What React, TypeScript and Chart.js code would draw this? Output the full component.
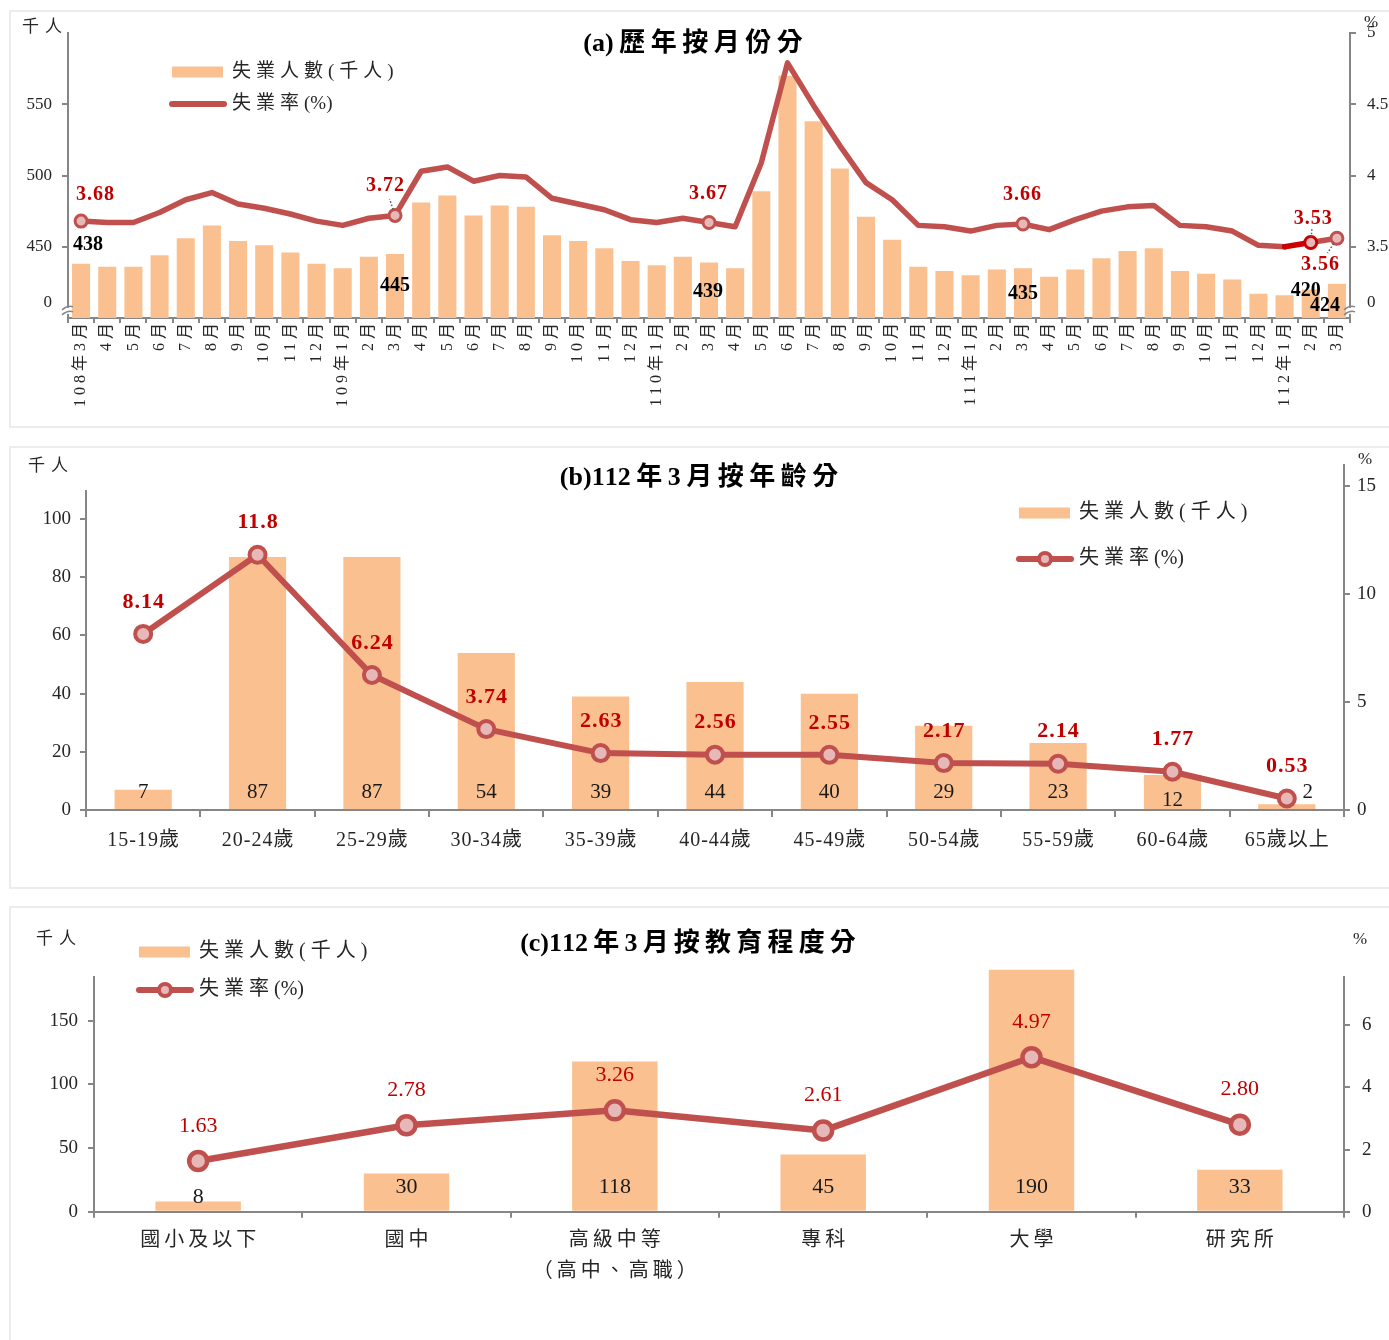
import React, { useEffect, useRef } from 'react';
import { Chart, registerables } from 'chart.js';

Chart.register(...registerables);

const FONT = "'Liberation Serif', 'Noto Sans CJK TC', serif";
const BAR = '#fac090';
const LINE = '#c0504d';
const MARK_FILL = '#e6b9b8';
const RED = '#c00000';
const AXIS = '#868686';
const TXT = '#262626';

// ---------------- (a) 歷年按月份分 ----------------
const monthLabels = [
  '108年3月', '4月', '5月', '6月', '7月', '8月', '9月', '10月', '11月', '12月',
  '109年1月', '2月', '3月', '4月', '5月', '6月', '7月', '8月', '9月', '10月', '11月', '12月',
  '110年1月', '2月', '3月', '4月', '5月', '6月', '7月', '8月', '9月', '10月', '11月', '12月',
  '111年1月', '2月', '3月', '4月', '5月', '6月', '7月', '8月', '9月', '10月', '11月', '12月',
  '112年1月', '2月', '3月',
];
const monthUnemployed = [
  438, 436, 436, 444, 456, 465, 454, 451, 446, 438,
  435, 443, 445, 481, 486, 472, 479, 478, 458, 454, 449, 440,
  437, 443, 439, 435, 489, 570, 538, 505, 471, 455, 436, 433,
  430, 434, 435, 429, 434, 442, 447, 449, 433, 431, 427, 417,
  416, 420, 424,
];
const monthRate = [
  3.68, 3.67, 3.67, 3.74, 3.83, 3.88, 3.80, 3.77, 3.73, 3.68,
  3.65, 3.70, 3.72, 4.03, 4.06, 3.96, 4.00, 3.99, 3.84, 3.80, 3.76, 3.69,
  3.67, 3.70, 3.67, 3.64, 4.09, 4.79, 4.49, 4.21, 3.95, 3.83, 3.65, 3.64,
  3.61, 3.65, 3.66, 3.62, 3.69, 3.75, 3.78, 3.79, 3.65, 3.64, 3.61, 3.51,
  3.50, 3.53, 3.56,
];
const monthLeftTicks = [450, 500, 550];
const monthRightTicks = [3.5, 4, 4.5, 5];
const monthLabelIdx = [0, 12, 24, 36, 47, 48];

// ---------------- (b) 112年3月按年齡分 ----------------
const ageLabels = ['15-19歲', '20-24歲', '25-29歲', '30-34歲', '35-39歲', '40-44歲', '45-49歲', '50-54歲', '55-59歲', '60-64歲', '65歲以上'];
const ageUnemployed = [7, 87, 87, 54, 39, 44, 40, 29, 23, 12, 2];
const ageRate = [8.14, 11.8, 6.24, 3.74, 2.63, 2.56, 2.55, 2.17, 2.14, 1.77, 0.53];
const ageLeftTicks = [0, 20, 40, 60, 80, 100];
const ageRightTicks = [0, 5, 10, 15];

// ---------------- (c) 112年3月按教育程度分 ----------------
const eduLabels = [['國小及以下'], ['國中'], ['高級中等', '（高中、高職）'], ['專科'], ['大學'], ['研究所']];
const eduUnemployed = [8, 30, 118, 45, 190, 33];
const eduRate = [1.63, 2.78, 3.26, 2.61, 4.97, 2.80];
const eduLeftTicks = [0, 50, 100, 150];
const eduRightTicks = [0, 2, 4, 6];

// ---------------- layout / style constants ----------------
const A_BREAK_L = 410.6;
const A_BREAK_R = 3.106;
const A_RATE_NUDGE: Record<number, [number, number, boolean]> = {
  0: [14, -26, false], 12: [-10, -30, true], 24: [-1, -29, false], 36: [-1, -29, false], 47: [2, -24, true], 48: [-17, 27, true],
};
const A_BAR_NUDGE: Record<number, [number, number]> = {
  0: [7, -19], 12: [0, 32], 24: [-1, 29], 36: [0, 26], 47: [-5, 1], 48: [-12, 22],
};
const B_LEFT_AXIS_TOP = 110;
const B_BAR_NUDGE: Record<number, [number, number]> = { 9: [0, 8], 10: [21, 0] };
const C_BAR_NUDGE: Record<number, [number, number]> = { 0: [0, 10] };

type TO = { size: number; bold?: boolean; color?: string; align?: 'left' | 'center' | 'right'; ls?: number; cjk?: boolean };

const isCJK = (ch: string) => /[\u3000-\u9fff\uff00-\uffef]/.test(ch);

function txt(ctx: CanvasRenderingContext2D, s: string, x: number, y: number, o: TO) {
  ctx.save();
  ctx.font = `${o.bold ? 'bold ' : ''}${o.size}px ${FONT}`;
  ctx.fillStyle = o.color || TXT;
  ctx.textBaseline = 'middle';
  ctx.textAlign = 'left';
  const ls = o.ls || 0;
  if (o.cjk) {
    const chars = Array.from(s);
    const widths = chars.map((c) => ctx.measureText(c).width);
    const gaps = chars.map((c, i) => (i < chars.length - 1 && (isCJK(c) || isCJK(chars[i + 1])) ? ls : 0));
    const w = widths.reduce((a, b) => a + b, 0) + gaps.reduce((a, b) => a + b, 0);
    let sx = x - w / 2;
    if (o.align === 'left') sx = x;
    else if (o.align === 'right') sx = x - w;
    chars.forEach((c, i) => {
      ctx.fillText(c, sx, y);
      sx += widths[i] + gaps[i];
    });
  } else {
    (ctx as any).letterSpacing = `${ls}px`;
    const w = ctx.measureText(s).width - ls;
    let sx = x - w / 2;
    if (o.align === 'left') sx = x;
    else if (o.align === 'right') sx = x - w;
    ctx.fillText(s, sx, y);
  }
  ctx.restore();
}

function marker(ctx: CanvasRenderingContext2D, x: number, y: number, r: number, bw: number) {
  ctx.save();
  ctx.beginPath();
  ctx.arc(x, y, r, 0, Math.PI * 2);
  ctx.fillStyle = MARK_FILL;
  ctx.fill();
  ctx.lineWidth = bw;
  ctx.strokeStyle = LINE;
  ctx.stroke();
  ctx.restore();
}

function breakMark(ctx: CanvasRenderingContext2D, x: number, y: number) {
  ctx.save();
  ctx.fillStyle = '#ffffff';
  ctx.fillRect(x - 3, y - 3, 6, 6);
  ctx.strokeStyle = AXIS;
  ctx.lineWidth = 1.5;
  ctx.beginPath();
  ctx.moveTo(x - 6, y - 1); ctx.quadraticCurveTo(x, y - 6, x + 5, y - 4);
  ctx.moveTo(x - 6, y + 4); ctx.quadraticCurveTo(x, y - 1, x + 5, y + 1);
  ctx.stroke();
  ctx.restore();
}

function legend(ctx: CanvasRenderingContext2D, x: number, y1: number, y2: number, tx: number, size: number, withMarker: boolean, lw: number) {
  ctx.save();
  ctx.fillStyle = BAR;
  ctx.fillRect(x + 2, y1 - 5.5, 51, 11);
  ctx.strokeStyle = LINE;
  ctx.lineWidth = lw;
  ctx.lineCap = 'round';
  ctx.beginPath();
  ctx.moveTo(x + 2, y2);
  ctx.lineTo(x + 54, y2);
  ctx.stroke();
  ctx.restore();
  if (withMarker) marker(ctx, x + 28, y2, 6, 4);
  txt(ctx, '失業人數(千人)', tx, y1, { size, align: 'left', ls: 5, cjk: true });
  txt(ctx, '失業率(%)', tx, y2, { size, align: 'left', ls: 5, cjk: true });
}

function yAxis(min: number, max: number, tickVals: number[], opts: any) {
  return {
    position: opts.position,
    min,
    max,
    afterBuildTicks: (s: any) => { s.ticks = tickVals.map((v) => ({ value: v })); },
    afterFit: (s: any) => { s.width = opts.width; },
    ticks: {
      font: { family: FONT, size: opts.fontSize },
      color: TXT,
      padding: opts.padding,
      callback: opts.callback || ((v: any) => String(v)),
    },
    grid: {
      drawOnChartArea: false,
      drawTicks: true,
      tickLength: 6,
      lineWidth: 2,
      color: opts.tickColor || AXIS,
    },
    border: { display: opts.border !== false, color: AXIS, width: 2 },
  };
}

function xAxis(height: number, tickLength: number) {
  return {
    offset: true,
    afterFit: (s: any) => { s.height = height; },
    ticks: { display: false },
    grid: { offset: true, drawOnChartArea: false, drawTicks: true, tickLength, lineWidth: 2, color: AXIS },
    border: { color: AXIS, width: 2 },
  };
}

const baseOptions = (padding: any) => ({
  responsive: false,
  animation: false as const,
  events: [] as any[],
  layout: { padding },
  plugins: { legend: { display: false }, tooltip: { enabled: false }, title: { display: false } },
});

// ---------------- chart (a) ----------------
function configA(): any {
  return {
    type: 'bar',
    data: {
      labels: monthLabels,
      datasets: [
        {
          type: 'line',
          label: '失業率(%)',
          data: monthRate,
          yAxisID: 'y1',
          order: 0,
          borderColor: LINE,
          borderWidth: 5.5,
          borderJoinStyle: 'round',
          borderCapStyle: 'round',
          tension: 0,
          pointRadius: monthLabels.map((_, i) => (monthLabelIdx.includes(i) ? 6 : 0)),
          pointBackgroundColor: MARK_FILL,
          pointBorderColor: monthLabels.map((_, i) => (i === 47 ? '#cc0000' : LINE)),
          pointBorderWidth: 3,
          segment: { borderColor: (c: any) => (c.p0DataIndex === 46 ? '#cc0000' : undefined) },
          clip: false,
        },
        {
          type: 'bar',
          label: '失業人數(千人)',
          data: monthUnemployed,
          yAxisID: 'y',
          order: 1,
          backgroundColor: BAR,
          barPercentage: 0.69,
          categoryPercentage: 1,
        },
      ],
    },
    options: {
      ...baseOptions({ left: 20, right: 0, top: 33, bottom: 0 }),
      scales: {
        x: xAxis(112, 5),
        y: yAxis(400, 600, [A_BREAK_L, ...monthLeftTicks], {
          position: 'left', width: 48, fontSize: 17, padding: 10,
          callback: (v: any) => (v === A_BREAK_L ? '0' : String(v)),
          tickColor: (c: any) => (c.tick && c.tick.value === A_BREAK_L ? 'rgba(0,0,0,0)' : AXIS),
        }),
        y1: yAxis(3, 5, [A_BREAK_R, ...monthRightTicks], {
          position: 'right', width: 39, fontSize: 17, padding: 11,
          callback: (v: any) => (v === A_BREAK_R ? '0' : String(v)),
          tickColor: (c: any) => (c.tick && c.tick.value === A_BREAK_R ? 'rgba(0,0,0,0)' : AXIS),
        }),
      },
    },
    plugins: [{
      id: 'drawA',
      afterDraw(chart: any) {
        const ctx: CanvasRenderingContext2D = chart.ctx;
        const x = chart.scales.x;
        const yL = chart.scales.y;
        const yR = chart.scales.y1;
        const ca = chart.chartArea;
        txt(ctx, '(a)歷年按月份分', 693, 44, { size: 26, bold: true, color: '#000', ls: 5.5, cjk: true });
        txt(ctx, '千人', 42, 28, { size: 17, ls: 6, cjk: true });
        txt(ctx, '%', 1371, 23, { size: 17 });
        legend(ctx, 170, 72, 104, 232, 19, false, 6);
        monthLabels.forEach((s, i) => {
          const px = x.getPixelForValue(i);
          ctx.save();
          ctx.translate(px, ca.bottom + 5);
          ctx.rotate(-Math.PI / 2);
          txt(ctx, s, 0, 0, { size: 16, align: 'right', ls: 4 });
          ctx.restore();
        });
        breakMark(ctx, ca.left, yL.getPixelForValue(A_BREAK_L) + 8);
        breakMark(ctx, ca.right, yR.getPixelForValue(A_BREAK_R) + 8);
        const lm = chart.getDatasetMeta(0);
        const bm = chart.getDatasetMeta(1);
        monthLabelIdx.forEach((i) => {
          const b = bm.data[i];
          const [bdx, bdy] = A_BAR_NUDGE[i];
          txt(ctx, String(monthUnemployed[i]), b.x + bdx, b.y + bdy, { size: 20, bold: true, color: '#000' });
          const p = lm.data[i];
          const [dx, dy, leader] = A_RATE_NUDGE[i];
          if (leader) {
            ctx.save();
            ctx.setLineDash([1.5, 2]);
            ctx.strokeStyle = '#555';
            ctx.lineWidth = 1.5;
            ctx.beginPath();
            ctx.moveTo(p.x + dx * 0.2, p.y + dy * 0.2);
            ctx.lineTo(p.x + dx * 0.55, p.y + dy * 0.55);
            ctx.stroke();
            ctx.restore();
          }
          txt(ctx, monthRate[i].toFixed(2), p.x + dx, p.y + dy, { size: 20, bold: true, color: RED, ls: 1 });
        });
      },
    }],
  };
}

// ---------------- chart (b) ----------------
function configB(): any {
  return {
    type: 'bar',
    data: {
      labels: ageLabels,
      datasets: [
        {
          type: 'line',
          label: '失業率(%)',
          data: ageRate,
          yAxisID: 'y1',
          order: 0,
          borderColor: LINE,
          borderWidth: 6,
          borderJoinStyle: 'round',
          tension: 0,
          pointRadius: 8,
          pointBackgroundColor: MARK_FILL,
          pointBorderColor: LINE,
          pointBorderWidth: 4,
          clip: false,
        },
        {
          type: 'bar',
          label: '失業人數(千人)',
          data: ageUnemployed,
          yAxisID: 'y',
          order: 1,
          backgroundColor: BAR,
          barPercentage: 0.5,
          categoryPercentage: 1,
        },
      ],
    },
    options: {
      ...baseOptions({ left: 26, right: 0, top: 25, bottom: 0 }),
      scales: {
        x: xAxis(80, 7),
        y: yAxis(0, 118.6, ageLeftTicks, { position: 'left', width: 60, fontSize: 19, padding: 9, border: false }),
        y1: yAxis(0, 15.95, ageRightTicks, { position: 'right', width: 45, fontSize: 19, padding: 7 }),
      },
    },
    plugins: [{
      id: 'drawB',
      afterDraw(chart: any) {
        const ctx: CanvasRenderingContext2D = chart.ctx;
        const x = chart.scales.x;
        const yL = chart.scales.y;
        const ca = chart.chartArea;
        ctx.save();
        ctx.strokeStyle = AXIS;
        ctx.lineWidth = 2;
        ctx.beginPath();
        ctx.moveTo(ca.left, yL.getPixelForValue(B_LEFT_AXIS_TOP));
        ctx.lineTo(ca.left, ca.bottom);
        ctx.stroke();
        ctx.restore();
        txt(ctx, '(b)112年3月按年齡分', 699, 38, { size: 26, bold: true, color: '#000', ls: 5.5, cjk: true });
        txt(ctx, '千人', 48, 27, { size: 17, ls: 6, cjk: true });
        txt(ctx, '%', 1365, 20, { size: 17 });
        legend(ctx, 1017, 73, 119, 1079, 20, true, 6);
        ageLabels.forEach((s, i) => {
          txt(ctx, s, x.getPixelForValue(i), ca.bottom + 31, { size: 20, ls: 1 });
        });
        const lm = chart.getDatasetMeta(0);
        const bm = chart.getDatasetMeta(1);
        ageUnemployed.forEach((v, i) => {
          const b = bm.data[i];
          const [dx, dy] = B_BAR_NUDGE[i] || [0, 0];
          txt(ctx, String(v), b.x + dx, ca.bottom - 18 + dy, { size: 21, color: '#1a1a1a' });
        });
        ageRate.forEach((v, i) => {
          const p = lm.data[i];
          txt(ctx, String(v), p.x, p.y - 32, { size: 22, bold: true, color: RED, ls: 1 });
        });
      },
    }],
  };
}

// ---------------- chart (c) ----------------
function configC(): any {
  return {
    type: 'bar',
    data: {
      labels: eduLabels,
      datasets: [
        {
          type: 'line',
          label: '失業率(%)',
          data: eduRate,
          yAxisID: 'y1',
          order: 0,
          borderColor: LINE,
          borderWidth: 6.5,
          borderJoinStyle: 'round',
          tension: 0,
          pointRadius: 9,
          pointBackgroundColor: MARK_FILL,
          pointBorderColor: LINE,
          pointBorderWidth: 4.5,
          clip: false,
        },
        {
          type: 'bar',
          label: '失業人數(千人)',
          data: eduUnemployed,
          yAxisID: 'y',
          order: 1,
          backgroundColor: BAR,
          barPercentage: 0.41,
          categoryPercentage: 1,
          clip: false,
        },
      ],
    },
    options: {
      ...baseOptions({ left: 34, right: 0, top: 77, bottom: 0 }),
      scales: {
        x: xAxis(128.3, 6),
        y: yAxis(0, 184.3, eduLeftTicks, { position: 'left', width: 60, fontSize: 19, padding: 10 }),
        y1: yAxis(0, 7.55, eduRightTicks, { position: 'right', width: 45, fontSize: 19, padding: 12 }),
      },
    },
    plugins: [{
      id: 'drawC',
      afterDraw(chart: any) {
        const ctx: CanvasRenderingContext2D = chart.ctx;
        const x = chart.scales.x;
        const ca = chart.chartArea;
        txt(ctx, '(c)112年3月按教育程度分', 688, 44, { size: 26, bold: true, color: '#000', ls: 5.2, cjk: true });
        txt(ctx, '千人', 56, 40, { size: 17, ls: 6, cjk: true });
        txt(ctx, '%', 1360, 40, { size: 17 });
        legend(ctx, 137, 52, 90, 199, 20, true, 6);
        eduLabels.forEach((lines, i) => {
          lines.forEach((s, k) => {
            txt(ctx, s, x.getPixelForValue(i), ca.bottom + 29 + k * 31, { size: 20, ls: 4, cjk: true });
          });
        });
        const lm = chart.getDatasetMeta(0);
        const bm = chart.getDatasetMeta(1);
        eduUnemployed.forEach((v, i) => {
          const b = bm.data[i];
          const [dx, dy] = C_BAR_NUDGE[i] || [0, 0];
          txt(ctx, String(v), b.x + dx, ca.bottom - 24 + dy, { size: 22, color: '#1a1a1a' });
        });
        eduRate.forEach((v, i) => {
          const p = lm.data[i];
          txt(ctx, v.toFixed(2), p.x, p.y - 35, { size: 22, color: RED });
        });
      },
    }],
  };
}

function ChartCanvas({ top, height, make }: { top: number; height: number; make: () => any }) {
  const ref = useRef<HTMLCanvasElement | null>(null);
  useEffect(() => {
    const chart = new Chart(ref.current as HTMLCanvasElement, make());
    return () => chart.destroy();
  }, []);
  return (
    <canvas
      ref={ref}
      width={1389}
      height={height}
      style={{ position: 'absolute', left: 0, top, width: 1389, height }}
    />
  );
}

const boxStyle = (top: number, height: number): React.CSSProperties => ({
  position: 'absolute',
  left: 9,
  top,
  width: 1400,
  height,
  border: '2px solid #ececec',
  boxSizing: 'border-box',
  background: '#ffffff',
});

export default function App() {
  return (
    <div style={{ position: 'absolute', left: 0, top: 0, width: 1389, height: 1340, overflow: 'hidden', background: '#ffffff' }}>
      <div style={boxStyle(10, 418)} />
      <div style={boxStyle(446, 443)} />
      <div style={boxStyle(906, 460)} />
      <ChartCanvas top={0} height={430} make={configA} />
      <ChartCanvas top={440} height={450} make={configB} />
      <ChartCanvas top={900} height={440} make={configC} />
    </div>
  );
}
